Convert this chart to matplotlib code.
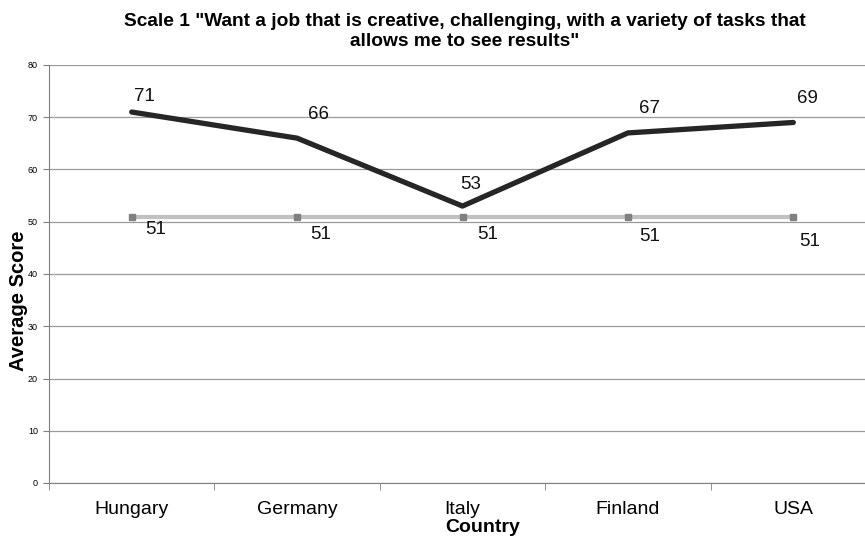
import matplotlib.pyplot as plt
from matplotlib.ticker import FixedLocator, NullFormatter

countries = ["Hungary", "Germany", "Italy", "Finland", "USA"]
scores = [71, 66, 53, 67, 69]
baseline = [51, 51, 51, 51, 51]

# label offsets (x in categories, y in score units), as placed in the original
score_offsets = [(0.08, 2.9), (0.13, 4.6), (0.05, 4.2), (0.13, 4.6), (0.085, 4.5)]
base_offsets = [(0.145, -2.4), (0.14, -3.5), (0.15, -3.5), (0.13, -3.9), (0.10, -4.7)]

plt.rcParams["font.family"] = ["Liberation Sans", "DejaVu Sans"]

fig = plt.figure(figsize=(8.65, 5.38), dpi=100)
# axes spans 49px..876px horizontally (slightly past the right edge), 65px..483px vertically
ax = fig.add_axes([49 / 865, 1 - 483 / 538, 827 / 865, 418 / 538])

x = list(range(len(countries)))

ax.plot(x, baseline, color="#c0c0c0", linewidth=3.0, solid_capstyle="butt",
        marker="s", markersize=4, markerfacecolor="#808080",
        markeredgecolor="#808080", zorder=3)
ax.plot(x, scores, color="#262626", linewidth=3.8, solid_capstyle="round",
        solid_joinstyle="round", zorder=4)

for i, v in enumerate(scores):
    dx, dy = score_offsets[i]
    ax.text(i + dx, v + dy, str(v), fontsize=13.5, ha="center", va="center", color="#111111")
for i, v in enumerate(baseline):
    dx, dy = base_offsets[i]
    ax.text(i + dx, v + dy, str(v), fontsize=13.5, ha="center", va="center", color="#111111")

ax.set_xlim(-0.5, len(countries) - 0.5)
ax.set_ylim(0, 80)
ax.set_yticks(range(0, 81, 10))
ax.tick_params(axis="y", labelsize=6.5, length=4, color="#808080", pad=4)
ax.yaxis.grid(True, color="#9a9a9a", linewidth=0.9)
ax.set_axisbelow(True)

ax.set_xticks(x)
ax.set_xticklabels(countries, fontsize=14)
ax.tick_params(axis="x", length=0, pad=13)
ax.xaxis.set_minor_locator(FixedLocator([i - 0.5 for i in range(len(countries) + 1)]))
ax.xaxis.set_minor_formatter(NullFormatter())
ax.tick_params(axis="x", which="minor", length=5, color="#808080")

for side in ["top", "right"]:
    ax.spines[side].set_visible(False)
ax.spines["left"].set_color("#808080")
ax.spines["bottom"].set_color("#808080")

fig.text(465 / 865, 1 - 22 / 538,
         "Scale 1 \"Want a job that is creative, challenging, with a variety of tasks that",
         ha="center", va="center", fontsize=13.8, fontweight="bold")
fig.text(465 / 865, 1 - 42 / 538, "allows me to see results\"",
         ha="center", va="center", fontsize=13.8, fontweight="bold")
fig.text(19 / 865, 1 - 301 / 538, "Average Score", rotation=90, ha="center", va="center",
         fontsize=14.5, fontweight="bold")
fig.text(483 / 865, 1 - 528 / 538, "Country", ha="center", va="center",
         fontsize=14, fontweight="bold")

fig.savefig("out.png", dpi=100)
